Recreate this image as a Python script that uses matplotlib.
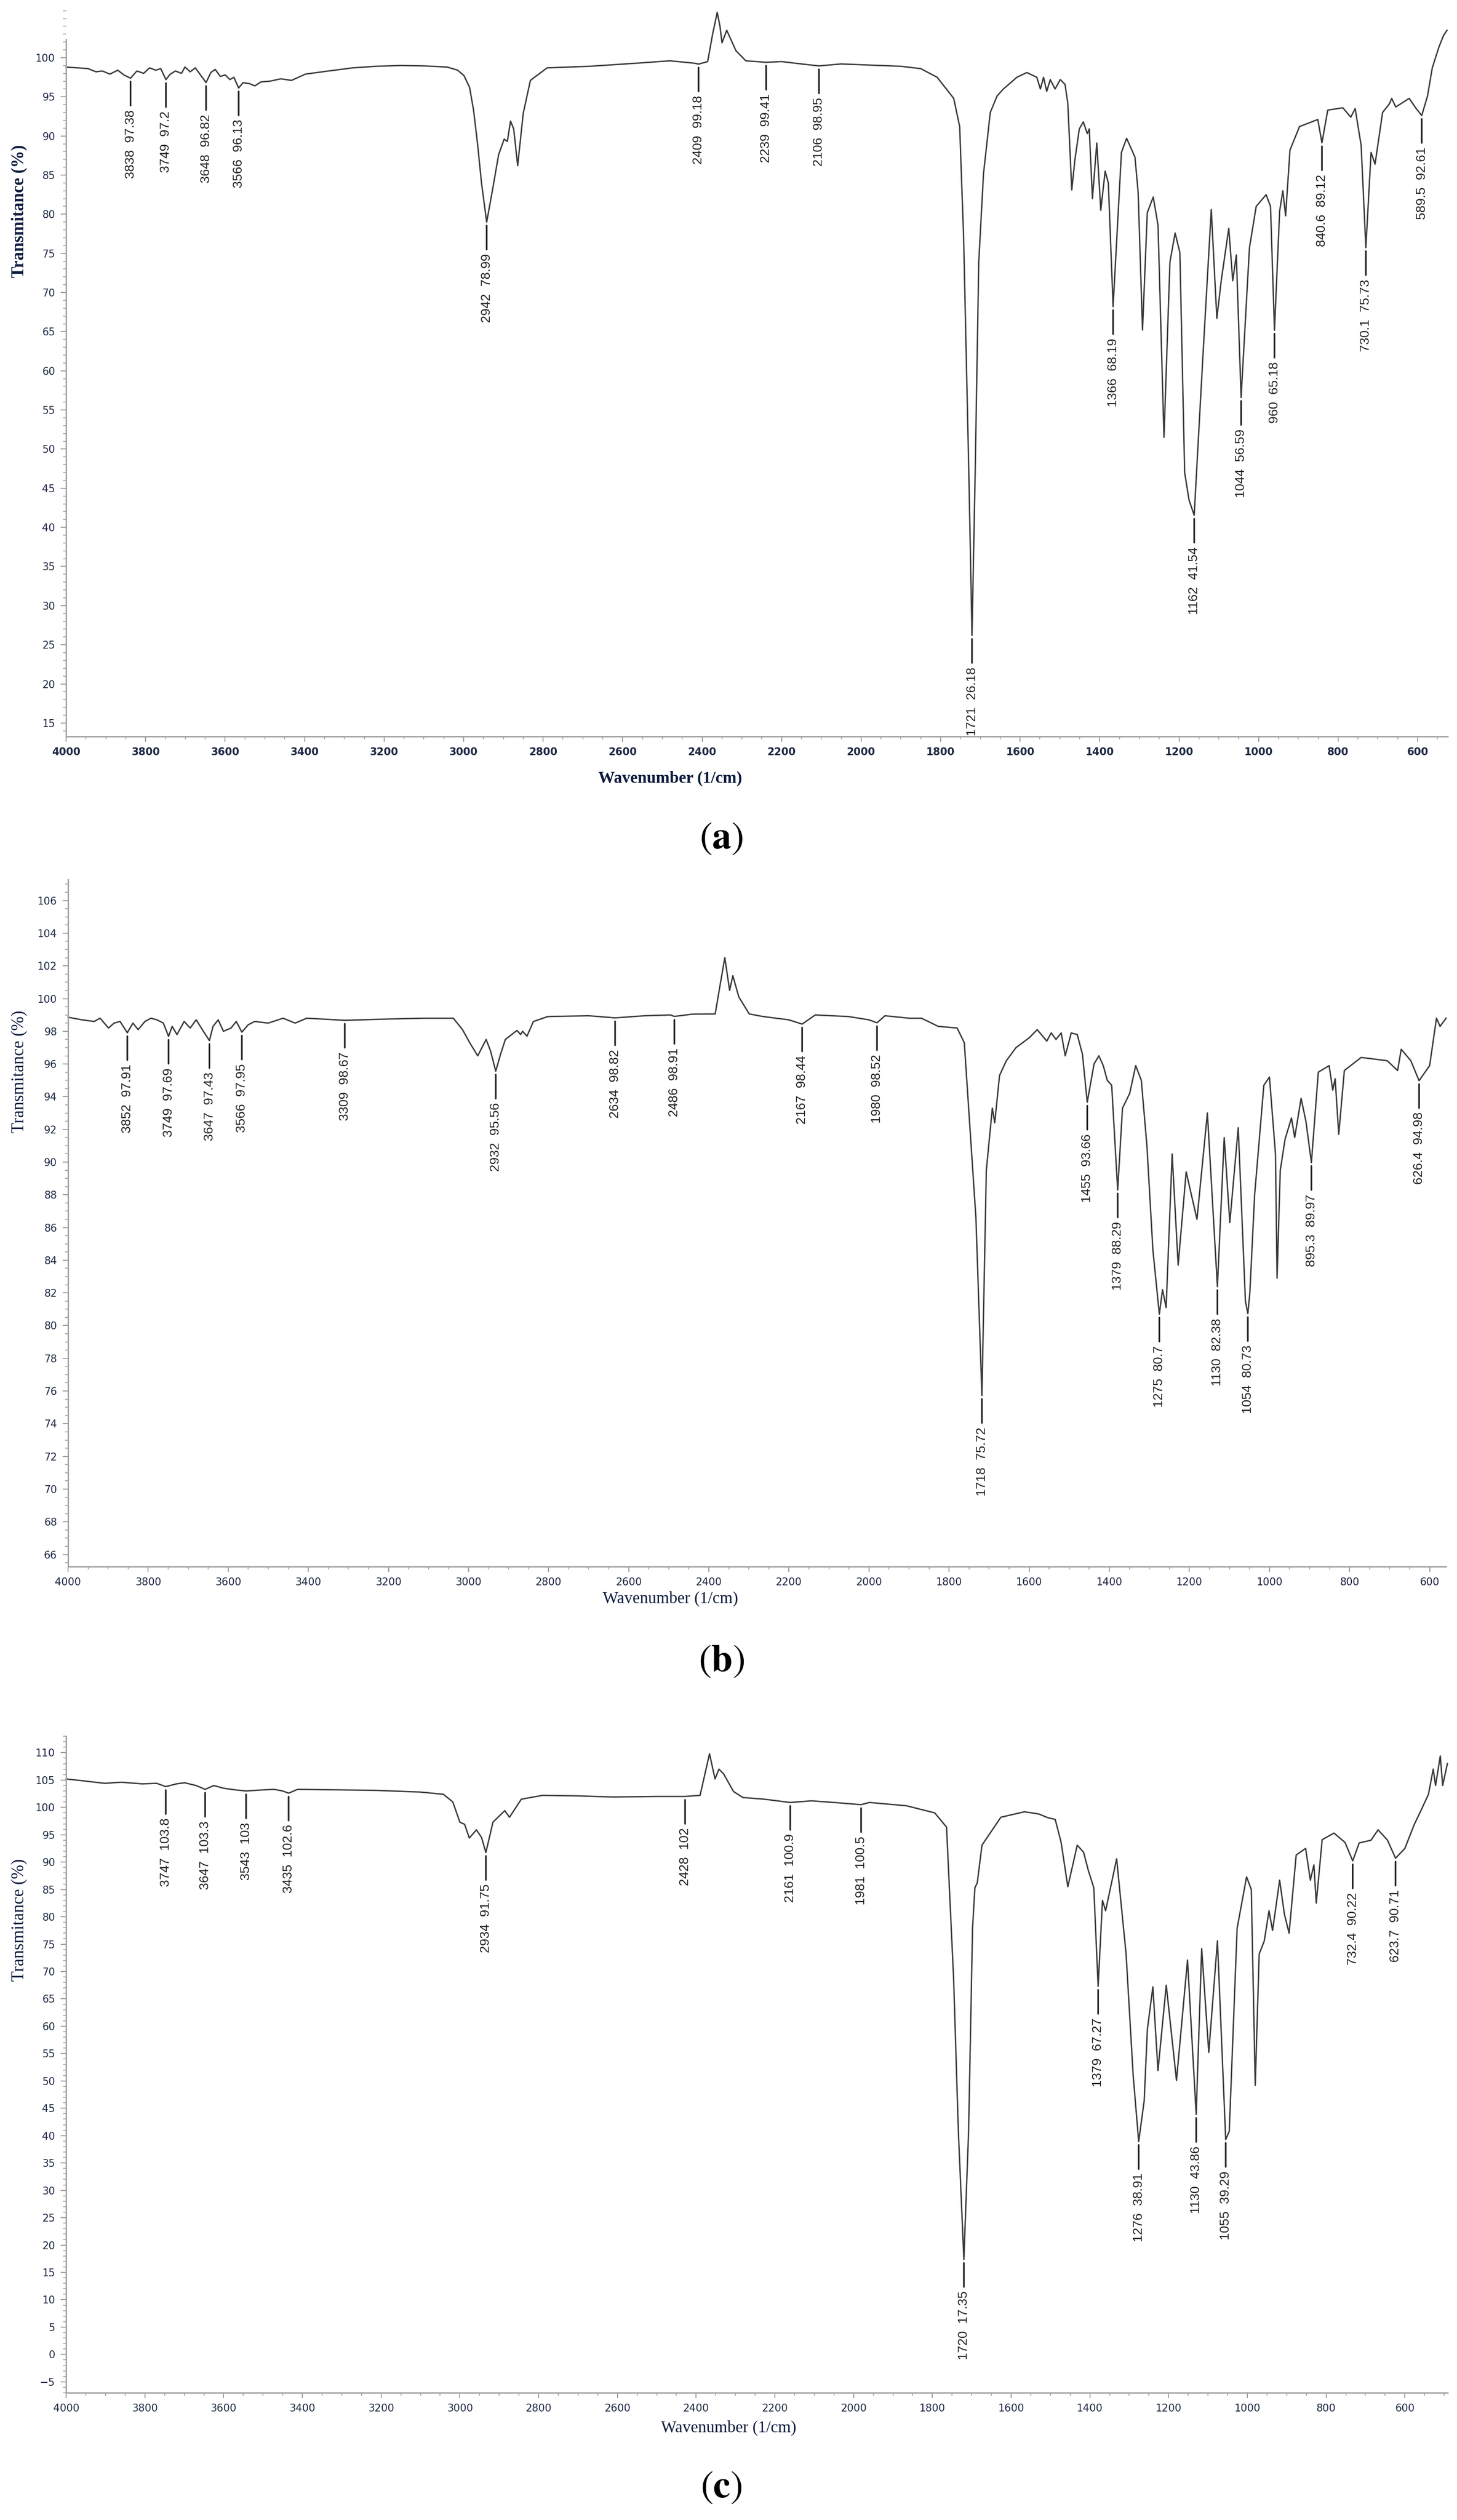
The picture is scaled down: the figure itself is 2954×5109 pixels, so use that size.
import numpy as np
import matplotlib
matplotlib.use("Agg")
import matplotlib.pyplot as plt
from matplotlib.transforms import offset_copy
from matplotlib.ticker import MultipleLocator

plt.rcParams['mathtext.fontset'] = 'stix'

# ---------------- Panel (a) ----------------
wn_a = [4000, 3970, 3945, 3925, 3909, 3890, 3870, 3855, 3838, 3822, 3805, 3790, 3775, 3762, 3749, 3738, 3725, 3710, 3701, 3688,
        3675, 3662, 3648, 3636, 3625, 3612, 3600, 3588, 3578, 3566, 3555, 3540, 3525, 3510, 3487, 3460, 3433, 3398, 3340, 3279,
        3220, 3160, 3100, 3041, 3015, 2999, 2985, 2975, 2965, 2955, 2942, 2927, 2912, 2898, 2890, 2882, 2874, 2864, 2850, 2832,
        2790, 2683, 2564, 2481, 2420, 2409, 2386, 2374, 2362, 2355, 2350, 2338, 2315, 2290, 2239, 2200, 2150, 2106, 2050, 2000,
        1950, 1900, 1850, 1808.8, 1767, 1752, 1742, 1729, 1721, 1713, 1704, 1692, 1675, 1658, 1642, 1608, 1583, 1558, 1549, 1541,
        1533, 1524, 1512, 1499, 1487, 1480, 1470, 1462, 1451, 1441, 1431, 1426, 1418, 1407, 1397, 1386, 1378, 1366, 1345, 1332,
        1311, 1303, 1292, 1280, 1265, 1253, 1238, 1223, 1210, 1198, 1186, 1175, 1162, 1140, 1119, 1105, 1094, 1075, 1065, 1056,
        1044, 1023, 1006, 981, 970, 960, 947, 939, 932, 921, 897, 851, 840.6, 826, 788, 768, 757, 742, 730.1, 717,
        707, 688, 671, 665, 655, 621, 605, 589.5, 575, 563, 546, 535, 526]
t_a = [98.8, 98.7, 98.6, 98.2, 98.3, 97.9, 98.4, 97.8, 97.38, 98.3, 98.0, 98.7, 98.4, 98.6, 97.2, 97.9, 98.3, 98.0, 98.8, 98.2,
       98.7, 97.8, 96.82, 98.1, 98.5, 97.6, 97.8, 97.2, 97.5, 96.13, 96.8, 96.7, 96.4, 96.9, 97.0, 97.3, 97.1, 97.9, 98.3, 98.7,
       98.9, 99.0, 98.95, 98.8, 98.4, 97.7, 96.2, 93.3, 89.0, 84.0, 78.99, 83.2, 87.6, 89.6, 89.3, 91.9, 90.9, 86.2, 92.9, 97.1,
       98.7, 98.9, 99.3, 99.6, 99.3, 99.18, 99.5, 102.9, 105.8, 104.0, 101.9, 103.5, 100.9, 99.6, 99.41, 99.5, 99.2, 98.95, 99.2, 99.1,
       99.0, 98.9, 98.6, 97.5, 94.8, 91.2, 76.9, 47.0, 26.18, 47.0, 73.9, 85.2, 93.0, 95.1, 96.0, 97.5, 98.1, 97.5, 96.0, 97.5,
       95.7, 97.2, 96.0, 97.2, 96.6, 94.2, 83.1, 87.0, 90.9, 91.8, 90.3, 90.9, 82.0, 89.1, 80.5, 85.5, 84.0, 68.19, 87.9, 89.7,
       87.3, 82.8, 65.2, 80.2, 82.2, 78.6, 51.5, 73.9, 77.6, 75.1, 47.0, 43.5, 41.54, 61.9, 80.6, 66.7, 71.5, 78.2, 71.5, 74.8,
       56.59, 75.7, 81.0, 82.5, 81.0, 65.18, 80.4, 83.0, 79.8, 88.2, 91.2, 92.1, 89.12, 93.3, 93.6, 92.4, 93.5, 88.8, 75.73, 87.9,
       86.4, 93.0, 94.1, 94.8, 93.7, 94.8, 93.6, 92.61, 95.1, 98.7, 101.4, 102.8, 103.5]
peak_wn_a = [3838, 3749, 3648, 3566, 2942, 2409, 2239, 2106, 1721, 1366, 1162, 1044, 960, 840.6, 730.1, 589.5]
peak_t_a = [97.38, 97.2, 96.82, 96.13, 78.99, 99.18, 99.41, 98.95, 26.18, 68.19, 41.54, 56.59, 65.18, 89.12, 75.73, 92.61]

# ---------------- Panel (b) ----------------
wn_b = [4000, 3965, 3935, 3920, 3899, 3885, 3870, 3852, 3838, 3825, 3808, 3793, 3778, 3762, 3749, 3740, 3728, 3710, 3695, 3680,
        3662, 3647, 3638, 3625, 3612, 3593, 3580, 3566, 3550, 3534, 3500, 3463, 3433, 3404, 3309, 3200, 3109, 3038, 3015, 2997,
        2977, 2956, 2945, 2932, 2920, 2908, 2879, 2870, 2865, 2854, 2838, 2802, 2700, 2634, 2560, 2496, 2486, 2440, 2384, 2372,
        2360, 2348, 2340, 2325, 2299, 2264, 2200, 2167, 2134, 2051, 2000, 1980, 1960, 1900, 1869, 1827, 1780, 1762, 1745, 1733,
        1718, 1707, 1692, 1686, 1674, 1657, 1633, 1600, 1580, 1556, 1545, 1533, 1520, 1510, 1495, 1480, 1467, 1455, 1438, 1426,
        1415, 1405, 1394, 1379, 1367, 1349, 1334, 1320, 1306, 1291, 1275, 1267, 1258, 1243, 1228, 1208, 1181, 1155, 1130, 1113,
        1099, 1078, 1060, 1054, 1049, 1037, 1014, 1000, 985, 981, 973, 961, 945, 937, 921, 909, 895.3, 878, 851, 842,
        836, 827, 813, 771, 706, 680, 671, 647, 626.4, 600, 583, 574, 559]
t_b = [98.86, 98.7, 98.6, 98.8, 98.2, 98.5, 98.6, 97.91, 98.5, 98.1, 98.6, 98.8, 98.7, 98.5, 97.69, 98.3, 97.8, 98.6, 98.2, 98.7,
       98.0, 97.43, 98.3, 98.7, 98.0, 98.2, 98.6, 97.95, 98.4, 98.6, 98.5, 98.8, 98.5, 98.8, 98.67, 98.75, 98.8, 98.8, 98.1, 97.3,
       96.5, 97.5, 96.8, 95.56, 96.6, 97.5, 98.05, 97.8, 98.0, 97.7, 98.6, 98.9, 98.95, 98.82, 98.95, 99.0, 98.91, 99.05, 99.06, 100.8,
       102.5, 100.5, 101.4, 100.1, 99.06, 98.9, 98.7, 98.44, 99.0, 98.9, 98.7, 98.52, 98.95, 98.8, 98.8, 98.3, 98.2, 97.3, 91.0, 86.6,
       75.72, 89.5, 93.3, 92.4, 95.3, 96.2, 97.0, 97.6, 98.1, 97.4, 97.9, 97.5, 97.9, 96.5, 97.9, 97.8, 96.6, 93.66, 96.0, 96.5,
       95.9, 95.0, 94.7, 88.29, 93.3, 94.2, 95.9, 95.0, 91.0, 84.6, 80.7, 82.2, 81.1, 90.5, 83.7, 89.4, 86.5, 93.0, 82.38, 91.5,
       86.3, 92.1, 81.5, 80.73, 82.0, 88.0, 94.7, 95.2, 90.5, 82.9, 89.5, 91.4, 92.7, 91.5, 93.9, 92.5, 89.97, 95.5, 95.9, 94.4,
       95.1, 91.7, 95.6, 96.4, 96.2, 95.6, 96.9, 96.2, 94.98, 95.9, 98.8, 98.3, 98.8]
peak_wn_b = [3852, 3749, 3647, 3566, 3309, 2932, 2634, 2486, 2167, 1980, 1718, 1455, 1379, 1275, 1130, 1054, 895.3, 626.4]
peak_t_b = [97.91, 97.69, 97.43, 97.95, 98.67, 95.56, 98.82, 98.91, 98.44, 98.52, 75.72, 93.66, 88.29, 80.7, 82.38, 80.73, 89.97, 94.98]

# ---------------- Panel (c) ----------------
wn_c = [4000, 3950, 3902, 3860, 3807, 3770, 3747, 3720, 3699, 3670, 3647, 3625, 3600, 3570, 3543, 3500, 3472, 3450, 3435, 3412,
        3300, 3209, 3100, 3042, 3018, 3000, 2988, 2976, 2958, 2945, 2934, 2916, 2886, 2874, 2844, 2790, 2700, 2611, 2500, 2428,
        2390, 2366, 2352, 2342, 2330, 2305, 2281, 2227, 2161, 2107, 2050, 1981, 1960, 1866, 1794, 1764, 1746, 1734, 1720, 1708,
        1698, 1692, 1686, 1674, 1626, 1566, 1530, 1506, 1488, 1473, 1456, 1432, 1416, 1404, 1390, 1379, 1368, 1360, 1332, 1308,
        1290, 1276, 1262, 1254, 1240, 1227, 1206, 1180, 1152, 1130, 1116, 1098, 1076, 1055, 1046, 1026, 1002, 990, 980, 970,
        957, 945, 936, 918, 906, 894, 876, 852, 840, 831, 825, 810, 780, 752, 732.4, 716, 686, 668, 644, 623.7,
        600, 576, 558, 540, 528, 522, 510, 504, 492]
t_c = [105.2, 104.8, 104.4, 104.6, 104.3, 104.4, 103.8, 104.3, 104.5, 104.0, 103.3, 104.0, 103.5, 103.2, 103.0, 103.2, 103.3, 103.0, 102.6, 103.3,
       103.2, 103.1, 102.8, 102.4, 101.0, 97.3, 96.9, 94.4, 95.9, 94.5, 91.75, 97.3, 99.4, 98.2, 101.5, 102.2, 102.1, 101.9, 102.0, 102.0,
       102.2, 109.8, 105.2, 107.0, 106.1, 102.9, 101.8, 101.5, 100.9, 101.2, 100.9, 100.5, 100.9, 100.3, 99.0, 96.4, 68.6, 40.8, 17.35, 40.8,
       77.9, 85.3, 86.2, 93.1, 98.2, 99.2, 98.8, 98.1, 97.8, 93.6, 85.5, 93.1, 91.8, 88.5, 85.3, 67.27, 83.0, 81.1, 90.6, 73.2,
       51.0, 38.91, 46.4, 59.4, 67.2, 51.9, 67.5, 50.1, 72.1, 43.86, 74.2, 55.2, 75.6, 39.29, 40.8, 77.9, 87.3, 85.0, 49.2, 73.2,
       75.6, 81.1, 77.5, 86.7, 80.5, 77.0, 91.3, 92.5, 86.7, 89.5, 82.5, 94.1, 95.3, 93.6, 90.22, 93.5, 94.0, 95.9, 94.0, 90.71,
       92.5, 96.9, 99.6, 102.4, 107.0, 104.0, 109.4, 104.0, 108.0]
peak_wn_c = [3747, 3647, 3543, 3435, 2934, 2428, 2161, 1981, 1720, 1379, 1276, 1130, 1055, 732.4, 623.7]
peak_t_c = [103.8, 103.3, 103.0, 102.6, 91.75, 102.0, 100.9, 100.5, 17.35, 67.27, 38.91, 43.86, 39.29, 90.22, 90.71]

W, H = 2954, 5109
fig = plt.figure(figsize=(W / 100, H / 100), dpi=100)
fig.patch.set_facecolor('white')

panels = [
    dict(wn=wn_a, t=t_a, pw=peak_wn_a, pt=peak_t_a, rect=[0.0454, 0.7078, 0.948, 0.2895],
         xlim=(4000, 525), ylim=(13.3, 106.5), spine_top=102.3, yticks=np.arange(15, 101, 5), ymin=1,
         bold=True, cap='a', cap_y=0.667, xl_y=0.691, xl_x=0.46),
    dict(wn=wn_b, t=t_b, pw=peak_wn_b, pt=peak_t_b, rect=[0.0467, 0.3784, 0.9458, 0.2727],
         xlim=(4000, 559), ylim=(65.27, 107.3), spine_top=107.3, yticks=np.arange(66, 107, 2), ymin=0.5,
         bold=False, cap='b', cap_y=0.3405, xl_y=0.3655, xl_x=0.46),
    dict(wn=wn_c, t=t_c, pw=peak_wn_c, pt=peak_t_c, rect=[0.0454, 0.0505, 0.948, 0.2605],
         xlim=(4000, 492), ylim=(-7, 113), spine_top=113, yticks=np.arange(-5, 111, 5), ymin=1,
         bold=False, cap='c', cap_y=0.0125, xl_y=0.0365, xl_x=0.50),
]

tick_col = '#1f2a44'
label_fams = ['Liberation Sans Narrow', 'Liberation Sans', 'DejaVu Sans']
for p in panels:
    ax = fig.add_axes(p['rect'])
    ax.plot(p['wn'], p['t'], color='#3a3a3a', lw=2.0, clip_on=False)
    ax.set_xlim(*p['xlim'])
    ax.set_ylim(*p['ylim'])
    for s in ['top', 'right']:
        ax.spines[s].set_visible(False)
    for s in ['left', 'bottom']:
        ax.spines[s].set_color('#a0a0a0')
        ax.spines[s].set_linewidth(2)
    ax.spines['left'].set_bounds(p['ylim'][0], p['spine_top'])
    ax.set_yticks(p['yticks'])
    ax.yaxis.set_minor_locator(MultipleLocator(p['ymin']))
    ax.xaxis.set_major_locator(MultipleLocator(200))
    ax.xaxis.set_minor_locator(MultipleLocator(50))
    ax.tick_params(axis='both', which='major', length=8, width=1.5, color='#a0a0a0',
                   labelsize=15, labelcolor=tick_col, pad=8)
    ax.tick_params(axis='both', which='minor', length=4, width=1.2, color='#a0a0a0')
    ax.set_xticks([v for v in range(600, 4001, 200)])
    for lab in ax.get_xticklabels():
        lab.set_fontweight('bold' if p['bold'] else 'normal')

    for w, v in zip(p['pw'], p['pt']):
        t0 = offset_copy(ax.transData, fig=fig, y=-5, units='points')
        t1 = offset_copy(ax.transData, fig=fig, y=-40, units='points')
        ax.annotate('', xy=(w, v), xycoords=t0, xytext=(w, v), textcoords=t1,
                    arrowprops=dict(arrowstyle='-', lw=2.4, color='#222222', shrinkA=0, shrinkB=0))
        ax.annotate(f"{w:g}  {v:g}", xy=(w, v), xycoords='data', xytext=(0, -46),
                    textcoords='offset points', rotation=90, ha='center', va='top',
                    fontsize=19, family=label_fams, color='#222222')

    fig.text(0.013, p['rect'][1] + p['rect'][3] * 0.72, 'Transmitance (%)', rotation=90,
             ha='center', va='center', fontsize=25, family='Liberation Serif',
             fontweight='bold' if p['bold'] else 'normal', color='#0d1b3d')
    fig.text(p['xl_x'], p['xl_y'], 'Wavenumber (1/cm)', ha='center', va='center', fontsize=24,
             family='Liberation Serif', fontweight='bold' if p['bold'] else 'normal', color='#0d1b3d')
    fig.text(0.495, p['cap_y'], r'($\mathbf{%s}$)' % p['cap'], ha='center', va='center',
             fontsize=56, family='STIXGeneral', color='black')

fig.savefig('out.png', dpi=100, facecolor='white')
